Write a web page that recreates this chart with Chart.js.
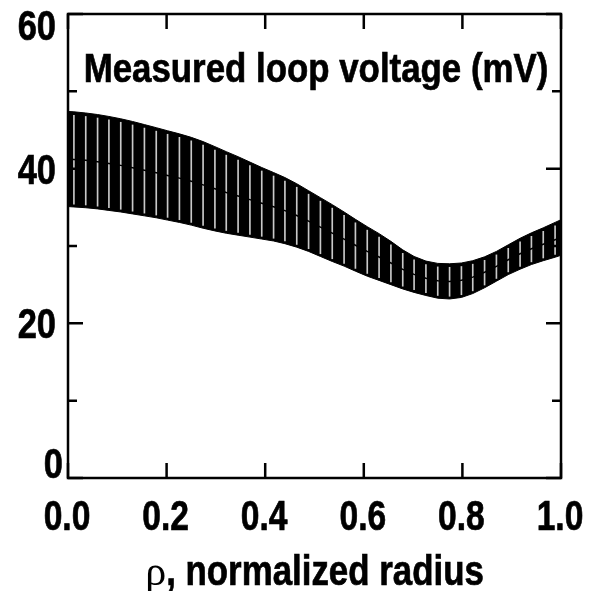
<!DOCTYPE html>
<html>
<head>
<meta charset="utf-8">
<script src="https://cdn.jsdelivr.net/npm/chart.js@4.4.0/dist/chart.umd.min.js"></script>
<style>
    html, body { margin: 0; padding: 0; background: #fff; }
    #wrap { width: 589px; height: 591px; }
</style>
</head>
<body>
<div id="wrap"><canvas id="chart" width="589" height="591"></canvas></div>
<script>
(function() {
    'use strict';

    // normalized radius of each profile point (band edges + seams)
    var radius = [
        0.000, 0.012, 0.036, 0.060, 0.083, 0.107, 0.131, 0.155, 0.179, 0.202,
        0.226, 0.250, 0.274, 0.298, 0.321, 0.345, 0.369, 0.393, 0.417, 0.440,
        0.464, 0.488, 0.512, 0.536, 0.560, 0.583, 0.607, 0.631, 0.655, 0.679,
        0.702, 0.726, 0.750, 0.774, 0.798, 0.821, 0.845, 0.869, 0.893, 0.917,
        0.940, 0.964, 0.988, 1.000
    ];
    // upper edge of the loop voltage band (mV)
    var upper = [
        47.4, 47.35, 47.2, 47.0, 46.75, 46.45, 46.1, 45.7, 45.3, 44.9,
        44.5, 44.05, 43.5, 42.85, 42.2, 41.55, 40.85, 40.15, 39.5, 38.85,
        38.05, 37.15, 36.25, 35.35, 34.4, 33.45, 32.5, 31.6, 30.6, 29.5,
        28.65, 28.05, 27.75, 27.7, 27.8, 28.1, 28.6, 29.3, 30.15, 31.0,
        31.7, 32.35, 33.05, 33.4
    ];
    // lower edge of the loop voltage band (mV)
    var lower = [
        35.1, 35.05, 34.95, 34.8, 34.6, 34.4, 34.15, 33.9, 33.65, 33.35,
        33.05, 32.7, 32.3, 31.95, 31.65, 31.4, 31.15, 30.9, 30.65, 30.3,
        29.85, 29.3, 28.65, 28.0, 27.4, 26.75, 26.1, 25.55, 25.0, 24.45,
        24.0, 23.6, 23.25, 23.15, 23.35, 23.85, 24.6, 25.45, 26.3, 27.0,
        27.6, 28.1, 28.55, 28.8
    ];

    var xTicks = [0, 0.2, 0.4, 0.6, 0.8, 1.0];
    var xLabels = ['0.0', '0.2', '0.4', '0.6', '0.8', '1.0'];
    var yTicks = [0, 10, 20, 30, 40, 50, 60];
    var yLabels = { 0: '0', 20: '20', 40: '40', 60: '60' };

    var BIG = "bold 42px 'Liberation Sans', Arial, sans-serif";

    var upperPts = radius.map(function(r, i) { return { x: r, y: upper[i] }; });
    var lowerPts = radius.map(function(r, i) { return { x: r, y: lower[i] }; });
    var midPts = radius.map(function(r, i) { return { x: r, y: (lower[i] + upper[i]) / 2 }; });
    // thin seams at the interior points, slightly inset from the edges
    var seams = [];
    radius.forEach(function(r, i) {
        if (i === 0 || i === radius.length - 1) return;
        seams.push({ x: r, y: [lower[i] + 0.35, upper[i] - 0.45] });
    });

    // narrow bold text: squeeze horizontally, a touch of stroke for weight
    function narrowText(ctx, text, x, y, align, sx) {
        ctx.save();
        ctx.translate(x, y);
        ctx.scale(sx, 1);
        ctx.textAlign = align;
        ctx.textBaseline = 'alphabetic';
        ctx.lineWidth = 0.7;
        ctx.strokeStyle = '#000';
        ctx.fillText(text, 0, 0);
        ctx.strokeText(text, 0, 0);
        ctx.restore();
    }

    var framePlugin = {
        id: 'frame',
        afterDatasetsDraw: function(chart) {
            var ctx = chart.ctx;
            var a = chart.chartArea;
            var xs = chart.scales.x;
            var ys = chart.scales.y;

            ctx.save();
            ctx.strokeStyle = '#000';
            ctx.lineWidth = 2.5;
            ctx.strokeRect(a.left, a.top, a.right - a.left, a.bottom - a.top);

            // inward ticks
            ctx.beginPath();
            yTicks.forEach(function(v) {
                var py = ys.getPixelForValue(v);
                var len = (v % 20 === 0) ? 15 : 9;
                ctx.moveTo(a.left, py); ctx.lineTo(a.left + len, py);
                ctx.moveTo(a.right, py); ctx.lineTo(a.right - len, py);
            });
            xTicks.forEach(function(v) {
                var px = xs.getPixelForValue(v);
                ctx.moveTo(px, a.bottom); ctx.lineTo(px, a.bottom - 15);
                ctx.moveTo(px, a.top); ctx.lineTo(px, a.top + 15);
            });
            ctx.stroke();

            ctx.fillStyle = '#000';
            ctx.font = BIG;

            // y labels (end labels pulled inside the axis range)
            yTicks.forEach(function(v) {
                if (!yLabels[v]) return;
                var py = ys.getPixelForValue(v);
                if (v === 0) {
                    narrowText(ctx, yLabels[v], a.left - 5, a.bottom, 'right', 0.82);
                } else if (v === 60) {
                    narrowText(ctx, yLabels[v], a.left - 12, a.top + 26, 'right', 0.82);
                } else {
                    narrowText(ctx, yLabels[v], a.left - 12, py + 15, 'right', 0.82);
                }
            });

            // x labels
            xTicks.forEach(function(v, i) {
                narrowText(ctx, xLabels[i], xs.getPixelForValue(v) - 1, a.bottom + 52, 'center', 0.8);
            });

            // x title: greek rho in serif, rest in bold sans
            var rho = '\u03C1';
            var rest = ', normalized radius';
            var serif = '42px "Liberation Serif", serif';
            var sx = 0.83;
            ctx.font = serif;
            var w1 = ctx.measureText(rho).width;
            ctx.font = BIG;
            var w2 = ctx.measureText(rest).width * sx;
            var cx = (a.left + a.right) / 2;
            var startX = cx - (w1 + w2) / 2;
            ctx.font = serif;
            ctx.fillText(rho, startX, a.bottom + 107);
            ctx.font = BIG;
            narrowText(ctx, rest, startX + w1, a.bottom + 107, 'left', sx);

            // label inside the plot
            ctx.font = "bold 41px 'Liberation Sans', Arial, sans-serif";
            narrowText(ctx, 'Measured loop voltage (mV)', 316, 82, 'center', 0.85);

            ctx.restore();
        }
    };

    new Chart(document.getElementById('chart').getContext('2d'), {
        type: 'line',
        data: {
            datasets: [{
                data: upperPts,
                borderColor: '#000',
                borderWidth: 1,
                pointRadius: 0,
                fill: false,
                order: 3
            }, {
                data: lowerPts,
                borderColor: '#000',
                borderWidth: 1,
                backgroundColor: '#000',
                pointRadius: 0,
                fill: '-1',
                order: 2
            }, {
                type: 'bar',
                data: seams,
                backgroundColor: '#c8c8c8',
                borderWidth: 0,
                barThickness: 1,
                order: 1
            }, {
                data: midPts,
                borderColor: '#000',
                borderWidth: 1.5,
                pointRadius: 0,
                fill: false,
                order: 0
            }]
        },
        options: {
            responsive: false,
            animation: false,
            layout: {
                padding: { top: 14, right: 28, left: 0, bottom: 0 }
            },
            plugins: {
                legend: { display: false },
                tooltip: { enabled: false },
                title: { display: false }
            },
            scales: {
                x: {
                    type: 'linear',
                    min: 0,
                    max: 1,
                    offset: false,
                    grid: { display: false },
                    border: { display: false },
                    ticks: { display: false },
                    afterFit: function(scale) { scale.height = 113; }
                },
                y: {
                    min: 0,
                    max: 60,
                    grid: { display: false },
                    border: { display: false },
                    ticks: { display: false },
                    afterFit: function(scale) { scale.width = 68; }
                }
            }
        },
        plugins: [framePlugin]
    });

})();
</script>
</body>
</html>
